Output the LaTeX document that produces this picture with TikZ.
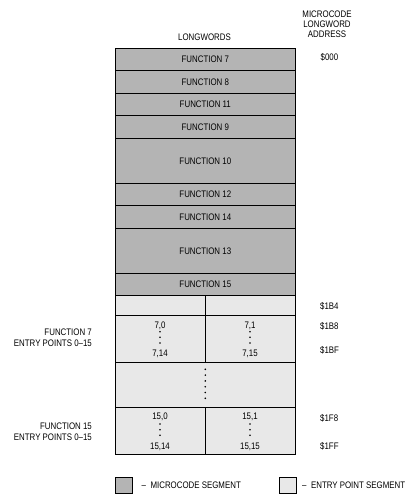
\documentclass[tikz,border=0pt]{standalone}
\usepackage{fontspec}
\setmainfont{Liberation Sans}[FakeStretch=0.83]
\definecolor{mcgray}{RGB}{180,180,180}
\definecolor{epgray}{RGB}{232,232,232}
\begin{document}
\begin{tikzpicture}[x=1pt,y=-1pt,
  lbl/.style={font=\fontsize{9.5}{11}\selectfont, inner sep=0pt},
  mc/.style={draw=black, line width=0.8pt, fill=mcgray, minimum width=180pt, inner sep=0pt, font=\fontsize{9.5}{11}\selectfont},
  ep/.style={draw=black, line width=0.8pt, fill=epgray, inner sep=0pt},
  dotc/.style={circle, fill=black, inner sep=0pt, minimum size=1.8pt}]
\useasboundingbox (0,0) rectangle (419,501);
% microcode segments
\node[mc, minimum height=22pt] (f7) at (205.3,59.3) {FUNCTION 7};
\node[mc, minimum height=23pt] (f8) at (205.3,81.8) {FUNCTION 8};
\node[mc, minimum height=22.4pt] (f11) at (205.3,104.5) {FUNCTION 11};
\node[mc, minimum height=22.6pt] (f9) at (205.3,127) {FUNCTION 9};
\node[mc, minimum height=45pt] (f10) at (205.3,160.8) {FUNCTION 10};
\node[mc, minimum height=22.4pt] (f12) at (205.3,194.5) {FUNCTION 12};
\node[mc, minimum height=22.6pt] (f14) at (205.3,217) {FUNCTION 14};
\node[mc, minimum height=45.4pt] (f13) at (205.3,251) {FUNCTION 13};
\node[mc, minimum height=21.6pt] (f15) at (205.3,284.5) {FUNCTION 15};
% entry point segments
\node[ep, minimum width=90pt, minimum height=20pt] (e0l) at (160.3,305.3) {};
\node[ep, minimum width=90pt, minimum height=20pt] (e0r) at (250.3,305.3) {};
\node[ep, minimum width=90pt, minimum height=47pt] (e7l) at (160.3,338.8) {};
\node[ep, minimum width=90pt, minimum height=47pt] (e7r) at (250.3,338.8) {};
\node[ep, minimum width=180pt, minimum height=45.4pt] (emid) at (205.3,385) {};
\node[ep, minimum width=90pt, minimum height=46.3pt] (e15l) at (160.3,430.8) {};
\node[ep, minimum width=90pt, minimum height=46.3pt] (e15r) at (250.3,430.8) {};
% entry texts
\node[lbl] (t70) at (160,325.5) {7,0};
\node[lbl] (t714) at (160,353.5) {7,14};
\node[lbl] (t71) at (250,325.5) {7,1};
\node[lbl] (t715) at (250,353.5) {7,15};
\node[lbl] (t150) at (160,417) {15,0};
\node[lbl] (t1514) at (160,447) {15,14};
\node[lbl] (t151) at (250,417) {15,1};
\node[lbl] (t1515) at (250,447) {15,15};
\foreach \xx/\nm in {160/a,250/b}{
  \node[dotc] (d7\nm1) at (\xx,331.7) {};
  \node[dotc] (d7\nm2) at (\xx,337.3) {};
  \node[dotc] (d7\nm3) at (\xx,343) {};
  \node[dotc] (d15\nm1) at (\xx,424) {};
  \node[dotc] (d15\nm2) at (\xx,429.7) {};
  \node[dotc] (d15\nm3) at (\xx,435.3) {};
}
\foreach \i/\yy in {1/369.3,2/375.1,3/380.9,4/386.7,5/392.5,6/398.3}{
  \node[dotc] (dm\i) at (205.3,\yy) {};
}
% headings
\node[lbl] (hlong) at (204.5,37.5) {LONGWORDS};
\node[lbl, align=center, font=\fontsize{9.5}{10.2}\selectfont] (haddr) at (327,24.5) {MICROCODE\\LONGWORD\\ADDRESS};
% addresses
\node[lbl, anchor=west] (a000) at (320.5,57) {\$000};
\node[lbl, anchor=west] (a1b4) at (320,306.5) {\$1B4};
\node[lbl, anchor=west] (a1b8) at (320,326.5) {\$1B8};
\node[lbl, anchor=west] (a1bf) at (320,350.5) {\$1BF};
\node[lbl, anchor=west] (a1f8) at (320,418.3) {\$1F8};
\node[lbl, anchor=west] (a1ff) at (320,446.7) {\$1FF};
% left labels
\node[lbl, anchor=east, align=right, font=\fontsize{9.5}{10.2}\selectfont] (l7) at (92,337.7) {FUNCTION 7\\ENTRY POINTS 0–15};
\node[lbl, anchor=east, align=right, font=\fontsize{9.5}{10.2}\selectfont] (l15) at (92,431.7) {FUNCTION 15\\ENTRY POINTS 0–15};
% legend
\node[draw=black, line width=0.8pt, fill=mcgray, minimum width=17pt, minimum height=16pt, inner sep=0pt] (legmc) at (123.5,485) {};
\node[lbl, anchor=west] (legmct) at (141.5,485.3) {–\hspace{4.5pt}MICROCODE SEGMENT};
\node[draw=black, line width=0.8pt, fill=epgray, minimum width=17pt, minimum height=16pt, inner sep=0pt] (legep) at (288,485) {};
\node[lbl, anchor=west] (legept) at (302,485.3) {–\hspace{4.5pt}ENTRY POINT SEGMENT};
\end{tikzpicture}
\end{document}
